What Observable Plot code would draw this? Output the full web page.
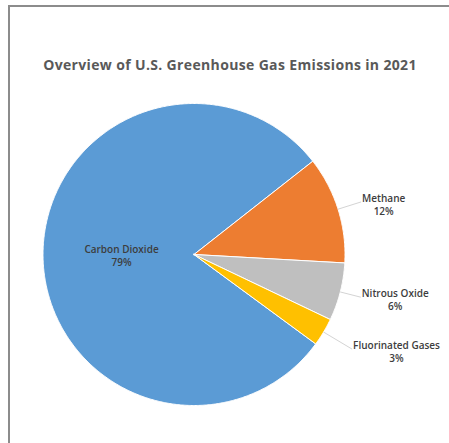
<!DOCTYPE html>
<html>
<head>
<meta charset="utf-8">
<script src="https://cdn.jsdelivr.net/npm/d3@7"></script>
<script src="https://cdn.jsdelivr.net/npm/@observablehq/plot@0.6"></script>
<style>
  html, body { margin: 0; padding: 0; background: #fff; }
  #wrap { position: relative; width: 449px; height: 443px; overflow: hidden; background: #fff; }
  #frame { position: absolute; left: 8px; top: 5px; width: 460px; height: 460px;
           border-top: 2px solid #8c8c8c; border-left: 2px solid #8c8c8c; box-sizing: border-box; }
  #title { position: absolute; left: 0; width: 460px; top: 55px; text-align: center;
           font-family: "Open Sans", sans-serif; font-weight: 700; font-size: 14px; line-height: 20px;
           letter-spacing: 0.35px; color: #595959; }
  #chart { position: absolute; left: 0; top: 0; }
</style>
</head>
<body>
<div id="wrap">
  <div id="frame"></div>
  <div id="chart"></div>
  <div id="title">Overview of U.S. Greenhouse Gas Emissions in 2021</div>
</div>
<script>
// ---- data ----
const categories = ["Carbon Dioxide", "Methane", "Nitrous Oxide", "Fluorinated Gases"];
const shares = [79.4, 11.5, 6.2, 3.0];
const pctLabels = ["79%", "12%", "6%", "3%"];

// ---- style / layout ----
const colors = ["#5B9BD5", "#ED7D31", "#BFBFBF", "#FFC000"];
const cx = 193.5, cy = 254, R = 151;
const startDeg = 126.3;
const font = "'Open Sans', sans-serif";
const labelSize = 10, labelWeight = 600;
const leaderLen = {"Methane": 1.16, "Nitrous Oxide": 1.14, "Fluorinated Gases": 1.22};
const insideRadius = 0.48;

const rows = categories.map((c, i) => ({name: c, value: shares[i], pct: pctLabels[i]}));
const a0 = startDeg * Math.PI / 180;
const arcs = d3.pie().sort(null).value(d => d.value).startAngle(a0).endAngle(a0 + 2 * Math.PI)(rows);

// slice polygons in unit coordinates (y up)
const pts = [];
for (const a of arcs) {
  const name = a.data.name;
  pts.push({name, x: 0, y: 0});
  const steps = Math.max(4, Math.ceil((a.endAngle - a.startAngle) / (Math.PI / 360)));
  for (let i = 0; i <= steps; i++) {
    const t = a.startAngle + (a.endAngle - a.startAngle) * i / steps;
    pts.push({name, x: Math.sin(t), y: Math.cos(t)});
  }
  pts.push({name, x: 0, y: 0});
}
const mid = a => (a.startAngle + a.endAngle) / 2;

const ctx = document.createElement("canvas").getContext("2d");
ctx.font = `${labelWeight} ${labelSize}px ${font}`;
const textW = s => ctx.measureText(s).width;

const marks = [
  Plot.line(pts, {x: "x", y: "y", z: "name", fill: "name", stroke: "#ffffff", strokeWidth: 1, curve: "linear"}),
  Plot.text([arcs[0]], {
    x: a => insideRadius * Math.sin(mid(a)),
    y: a => insideRadius * Math.cos(mid(a)),
    text: a => a.data.name + "\n" + a.data.pct,
    fill: "#3d3d3d", fontSize: labelSize, fontWeight: labelWeight, lineHeight: 1.25, lineAnchor: "middle"
  })
];
for (const a of arcs.slice(1)) {
  const L = leaderLen[a.data.name];
  const m = mid(a);
  marks.push(Plot.link([a], {
    x1: d => Math.sin(m), y1: d => Math.cos(m),
    x2: d => L * Math.sin(m), y2: d => L * Math.cos(m),
    stroke: "#d4d4d4", strokeWidth: 1
  }));
  const w = Math.max(textW(a.data.name), textW(a.data.pct));
  marks.push(Plot.text([a], {
    x: d => L * Math.sin(m), y: d => L * Math.cos(m),
    text: d => d.data.name + "\n" + d.data.pct,
    dx: w / 2 + 1, dy: 2.5, textAnchor: "middle", lineAnchor: "middle",
    fill: "#3d3d3d", fontSize: labelSize, fontWeight: labelWeight, lineHeight: 1.25
  }));
}

const chart = Plot.plot({
  width: 449, height: 443, margin: 0,
  x: {domain: [-1, 1], range: [cx - R, cx + R], axis: null},
  y: {domain: [-1, 1], range: [cy + R, cy - R], axis: null},
  color: {domain: categories, range: colors},
  style: {background: "transparent", fontFamily: font},
  marks
});
document.getElementById("chart").appendChild(chart);
</script>
</body>
</html>
